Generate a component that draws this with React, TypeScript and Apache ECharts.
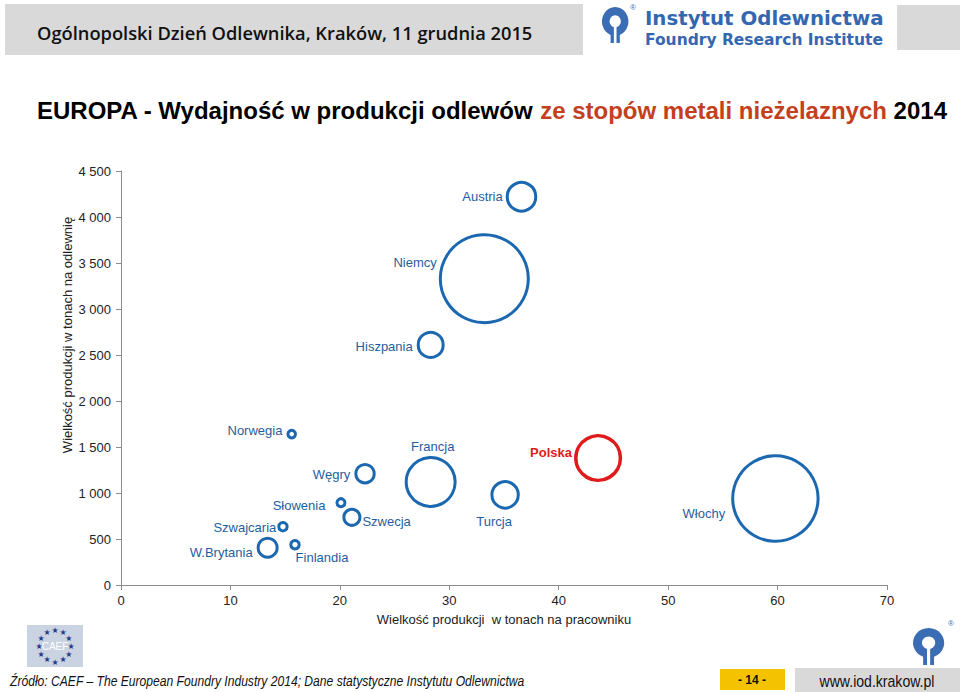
import React, { useEffect, useRef } from "react";
import * as echarts from "echarts";

// ---- data ----
const countries = [
  "Austria", "Niemcy", "Hiszpania", "Norwegia", "Francja", "Polska", "Węgry",
  "Turcja", "Włochy", "Słowenia", "Szwecja", "Szwajcaria", "W.Brytania", "Finlandia",
];
// x: production in tonnes per employee
const perWorker = [36.6, 33.2, 28.3, 15.6, 28.3, 43.6, 22.3, 35.1, 59.8, 20.1, 21.1, 14.8, 13.4, 15.9];
// y: production in tonnes per foundry
const perFoundry = [4220, 3330, 2610, 1640, 1120, 1380, 1210, 980, 940, 895, 736, 634, 405, 438];
// bubble size measure (relative total production)
const bubbleSize = [102, 968, 78, 7.2, 300, 249, 42, 87, 912, 8, 32, 8.8, 45, 8.8];
const highlighted = "Polska";

const xAxisMin = 0;
const xAxisMax = 70;
const xAxisStep = 10;
const yAxisMin = 0;
const yAxisMax = 4500;
const yAxisStep = 500;

const titleMain = "EUROPA - Wydajność w produkcji odlewów ";
const titleAccent = "ze stopów metali nieżelaznych";
const titleYear = " 2014";
const xAxisTitle = "Wielkość produkcji  w tonach na pracowniku";
const yAxisTitle = "Wielkość produkcji w tonach na odlewnię";
const headerText = "Ogólnopolski Dzień Odlewnika, Kraków, 11 grudnia 2015";
const sourceText = "Źródło: CAEF – The European Foundry Industry 2014; Dane statystyczne Instytutu Odlewnictwa";
const pageNumber = "- 14 -";
const website = "www.iod.krakow.pl";

// ---- label placement (style only) ----
const labelPlacement: Record<string, { position: string; distance: number; offset: [number, number] }> = {
  Austria: { position: "left", distance: 3, offset: [0, 0] },
  Niemcy: { position: "left", distance: 2, offset: [0, -16] },
  Hiszpania: { position: "left", distance: 4, offset: [0, 2] },
  Norwegia: { position: "left", distance: 4, offset: [0, -4] },
  Francja: { position: "top", distance: 3, offset: [2, 0] },
  Polska: { position: "left", distance: 2, offset: [0, -6] },
  "Węgry": { position: "left", distance: 4, offset: [0, 1] },
  Turcja: { position: "bottom", distance: 5, offset: [-11, 0] },
  "Włochy": { position: "left", distance: 6, offset: [0, 15] },
  "Słowenia": { position: "left", distance: 10, offset: [0, 3] },
  Szwecja: { position: "right", distance: 1, offset: [0, 4] },
  Szwajcaria: { position: "left", distance: 1, offset: [0, 1] },
  "W.Brytania": { position: "left", distance: 4, offset: [0, 5] },
  Finlandia: { position: "bottom", distance: 1, offset: [27, 0] },
};

const BLUE = "#1b68b0";
const LABEL_BLUE = "#1f5e9e";
const RED = "#df1a1a";
const FONT = "'Liberation Sans', Arial, sans-serif";

const ringPath =
  "M26 100 L26 77.5 A40 40 0 1 1 54 77.5 L54 100 L44 100 L44 56.5 A17 17 0 1 0 36 56.5 L36 100 Z";

function fmtThousands(v: number): string {
  return String(v).replace(/\B(?=(\d{3})+(?!\d))/g, " ");
}

export default function App() {
  const ref = useRef<HTMLDivElement>(null);

  useEffect(() => {
    if (!ref.current) return;
    const Ring = (echarts.graphic as any).extendPath(ringPath, {});
    echarts.graphic.registerShape("iodLogo", Ring);

    const chart = echarts.init(ref.current, undefined, { renderer: "svg" });

    const data = countries.map((name, i) => {
      const lp = labelPlacement[name];
      const isHi = name === highlighted;
      return {
        name,
        value: [perWorker[i], perFoundry[i], bubbleSize[i]],
        itemStyle: {
          color: "rgba(255,255,255,0)",
          borderColor: isHi ? RED : BLUE,
          borderWidth: isHi ? 3.5 : 3,
          opacity: 1,
        },
        label: {
          show: true,
          position: lp.position,
          distance: lp.distance,
          offset: lp.offset,
          formatter: name,
          color: isHi ? RED : LABEL_BLUE,
          fontWeight: isHi ? "bold" : "normal",
          fontSize: 13,
          fontFamily: FONT,
        },
      };
    });

    const stars: any[] = [];
    for (let k = 0; k < 12; k++) {
      const a = (k / 12) * Math.PI * 2;
      stars.push({
        type: "text",
        x: 55 + 16 * Math.cos(a),
        y: 646 + 16 * Math.sin(a),
        style: {
          text: "★",
          fontSize: 8,
          fontFamily: "'DejaVu Sans', sans-serif",
          fill: "#2a3b8a",
          align: "center",
          verticalAlign: "middle",
        },
      });
    }

    const option: any = {
      animation: false,
      backgroundColor: "#ffffff",
      title: {
        left: 32,
        top: 93,
        text: `{a|${titleMain}}{b|${titleAccent}}{a|${titleYear}}`,
        textStyle: {
          rich: {
            a: { fontFamily: FONT, fontSize: 24, fontWeight: "bold", color: "#000000" },
            b: { fontFamily: FONT, fontSize: 24, fontWeight: "bold", color: "#c4401c" },
          },
        },
      },
      grid: { left: 121, right: 73, top: 171, bottom: 107, containLabel: false },
      xAxis: {
        type: "value",
        min: xAxisMin,
        max: xAxisMax,
        interval: xAxisStep,
        name: xAxisTitle,
        nameLocation: "middle",
        nameGap: 28,
        nameTextStyle: { fontFamily: FONT, fontSize: 13, color: "#222222" },
        axisLine: { show: true, lineStyle: { color: "#8c8c8c", width: 1 } },
        axisTick: { show: true, inside: false, length: 5, lineStyle: { color: "#8c8c8c" } },
        axisLabel: { fontFamily: FONT, fontSize: 13, color: "#222222", margin: 9 },
        splitLine: { show: false },
      },
      yAxis: {
        type: "value",
        min: yAxisMin,
        max: yAxisMax,
        interval: yAxisStep,
        axisLine: { show: true, lineStyle: { color: "#8c8c8c", width: 1 } },
        axisTick: { show: true, inside: false, length: 5, lineStyle: { color: "#8c8c8c" } },
        axisLabel: {
          fontFamily: FONT,
          fontSize: 13,
          color: "#222222",
          margin: 10,
          formatter: (v: number) => fmtThousands(v),
        },
        splitLine: { show: false },
      },
      series: [
        {
          type: "scatter",
          data,
          symbol: "circle",
          symbolSize: (val: number[]) => Math.sqrt(8 * val[2]),
          itemStyle: { opacity: 1 },
          emphasis: { disabled: true },
        },
      ],
      graphic: [
        // header band
        { type: "rect", shape: { x: 5, y: 4, width: 578, height: 51 }, style: { fill: "#d9d9d9" } },
        { type: "rect", shape: { x: 897, y: 5, width: 63, height: 45 }, style: { fill: "#d9d9d9" } },
        {
          type: "text",
          x: 37,
          y: 32,
          style: {
            text: headerText,
            fontFamily: "'Open Sans', sans-serif",
            fontSize: 18.3,
            fontWeight: 600,
            fill: "#111111",
            verticalAlign: "middle",
          },
        },
        // header logo
        {
          type: "iodLogo",
          x: 602,
          y: 7,
          scaleX: 0.33,
          scaleY: 0.36,
          style: { fill: "#3b6db4" },
        },
        {
          type: "text",
          x: 633,
          y: 7,
          style: { text: "®", fontSize: 8, fontFamily: FONT, fill: "#3b6db4", align: "center", verticalAlign: "middle" },
        },
        {
          type: "text",
          x: 645,
          y: 18,
          style: {
            text: "Instytut Odlewnictwa",
            fontFamily: "'DejaVu Sans', sans-serif",
            fontWeight: "bold",
            fontSize: 19.8,
            fill: "#3467b0",
            verticalAlign: "middle",
          },
        },
        {
          type: "text",
          x: 645,
          y: 40,
          style: {
            text: "Foundry Research Institute",
            fontFamily: "'DejaVu Sans', sans-serif",
            fontWeight: "bold",
            fontSize: 15.5,
            fill: "#3467b0",
            verticalAlign: "middle",
          },
        },
        // y axis title
        {
          type: "text",
          x: 67,
          y: 335,
          rotation: Math.PI / 2,
          style: {
            text: yAxisTitle,
            fontFamily: FONT,
            fontSize: 13,
            fill: "#222222",
            align: "center",
            verticalAlign: "middle",
          },
        },
        // CAEF logo
        { type: "rect", shape: { x: 27, y: 625, width: 56, height: 42 }, style: { fill: "#c9d3e2" } },
        ...stars,
        {
          type: "text",
          x: 55,
          y: 646,
          style: { text: "CAEF", fontFamily: FONT, fontSize: 10, fill: "#ffffff", align: "center", verticalAlign: "middle" },
        },
        // bottom right logo
        {
          type: "iodLogo",
          x: 913,
          y: 628,
          scaleX: 0.39,
          scaleY: 0.37,
          style: { fill: "#3b6db4" },
        },
        {
          type: "text",
          x: 951,
          y: 623,
          style: { text: "®", fontSize: 8, fontFamily: FONT, fill: "#3b6db4", align: "center", verticalAlign: "middle" },
        },
        // footer
        {
          type: "text",
          x: 10,
          y: 681,
          scaleX: 0.865,
          style: {
            text: sourceText,
            fontFamily: FONT,
            fontStyle: "italic",
            fontSize: 14,
            fill: "#111111",
            verticalAlign: "middle",
          },
        },
        { type: "rect", shape: { x: 720, y: 669, width: 65, height: 21 }, style: { fill: "#f5c200" } },
        {
          type: "text",
          x: 752,
          y: 680,
          style: { text: pageNumber, fontFamily: FONT, fontWeight: "bold", fontSize: 12, fill: "#111111", align: "center", verticalAlign: "middle" },
        },
        { type: "rect", shape: { x: 795, y: 668, width: 165, height: 24 }, style: { fill: "#d9d9d9" } },
        {
          type: "text",
          x: 877,
          y: 681,
          scaleX: 0.88,
          style: { text: website, fontFamily: FONT, fontSize: 16, fill: "#111111", align: "center", verticalAlign: "middle" },
        },
      ],
    };

    chart.setOption(option);
    return () => chart.dispose();
  }, []);

  return (
    <div
      ref={ref}
      style={{ position: "absolute", left: 0, top: 0, width: 960, height: 692 }}
    />
  );
}
